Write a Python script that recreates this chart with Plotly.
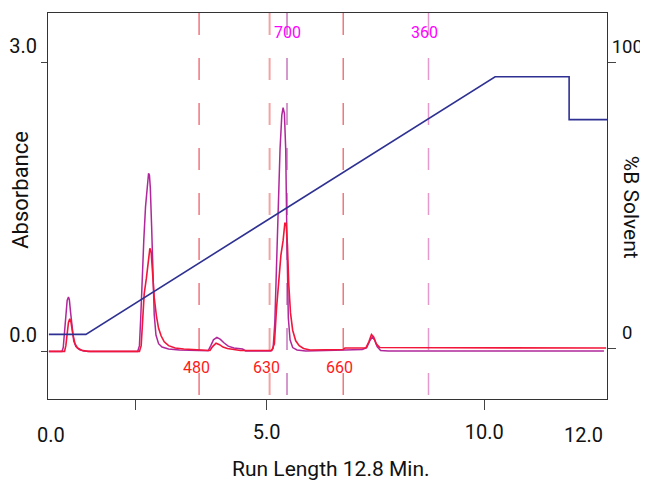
import plotly.graph_objects as go

# ---------------- data ----------------
# 700 nm trace (purple)
purple_time = [0.00, 0.30, 0.33, 0.36, 0.39, 0.42, 0.45, 0.47, 0.50, 0.53, 0.57, 0.62, 0.70, 0.80, 0.95,
               2.04, 2.08, 2.11, 2.14, 2.18, 2.22, 2.26, 2.29, 2.31, 2.33, 2.36, 2.39, 2.42, 2.46, 2.52,
               2.60, 2.75, 3.00, 3.40, 3.66, 3.72, 3.78, 3.86, 3.94, 4.02, 4.12, 4.25, 4.45, 4.52,
               5.10, 5.15, 5.19, 5.23, 5.27, 5.31, 5.35, 5.38, 5.41, 5.44, 5.47, 5.50, 5.54, 5.60,
               5.70, 5.90, 6.80, 7.20, 7.30, 7.37, 7.43, 7.48, 7.54, 7.62, 7.80, 12.75]
purple_abs = [0.000, 0.000, 0.040, 0.220, 0.420, 0.530, 0.565, 0.540, 0.400, 0.240, 0.110, 0.050, 0.020, 0.005, 0.000,
              0.000, 0.060, 0.350, 0.750, 1.150, 1.500, 1.760, 1.850, 1.830, 1.700, 1.300, 0.750, 0.380, 0.170, 0.080,
              0.045, 0.025, 0.015, 0.008, 0.008, 0.060, 0.120, 0.145, 0.125, 0.090, 0.055, 0.035, 0.025, 0.005,
              0.005, 0.030, 0.300, 0.900, 1.550, 2.100, 2.450, 2.530, 2.470, 2.100, 1.100, 0.350, 0.120, 0.040,
              0.015, 0.005, 0.015, 0.020, 0.040, 0.110, 0.150, 0.120, 0.050, 0.010, 0.005, 0.005]

# 480 nm trace (red)
red_time = [0.00, 0.36, 0.39, 0.42, 0.45, 0.48, 0.51, 0.55, 0.60, 0.66, 0.75, 0.90,
            2.08, 2.12, 2.15, 2.19, 2.24, 2.28, 2.32, 2.35, 2.38, 2.42, 2.47, 2.52, 2.58, 2.65,
            2.75, 2.90, 3.10, 3.40, 3.60, 3.70, 3.76, 3.84, 3.92, 4.00, 4.10, 4.25, 4.40,
            5.12, 5.18, 5.23, 5.28, 5.33, 5.38, 5.42, 5.45, 5.48, 5.51, 5.55, 5.60, 5.67, 5.75,
            5.85, 6.00, 6.76, 6.80, 7.28, 7.35, 7.41, 7.46, 7.52, 7.60, 12.80]
red_abs = [0.000, 0.000, 0.060, 0.180, 0.300, 0.340, 0.300, 0.180, 0.080, 0.035, 0.012, 0.000,
           0.000, 0.060, 0.350, 0.600, 0.760, 0.950, 1.070, 1.030, 0.850, 0.560, 0.370, 0.240, 0.160, 0.100,
           0.060, 0.035, 0.025, 0.020, 0.010, 0.010, 0.050, 0.085, 0.070, 0.045, 0.030, 0.020, 0.010,
           0.010, 0.080, 0.450, 0.780, 1.000, 1.150, 1.330, 1.330, 1.100, 0.700, 0.400, 0.220, 0.110, 0.060,
           0.030, 0.015, 0.020, 0.035, 0.035, 0.100, 0.175, 0.150, 0.080, 0.040, 0.035]

# gradient (%B solvent)
gradient_time = [0.0, 0.85, 10.25, 11.95, 11.95, 12.83]
gradient_pctB = [5, 5, 95, 95, 80, 80]

# wavelength markers
marker_labels = ["480", "630", "700", "660", "360"]
marker_times = [3.45, 5.07, 5.47, 6.76, 8.72]

# tick labels
x_tick_vals = [2, 5, 10]
x_tick_text = ["", "5.0", "10.0"]
x_extra_vals = [0.04, 12.27]
x_extra_text = ["0.0", "12.0"]
abs_tick_vals = [0, 3]
abs_tick_text = ["0.0", "3.0"]
pct_tick_vals = [0, 100]
pct_tick_text = ["\u20070", "100"]

# ---------------- styles ----------------
FONT = "Roboto, DejaVu Sans Condensed, sans-serif"
PURPLE = "#b0279b"
RED = "#f2163a"
BLUE = "#2e3192"
marker_line_colors = ["#e8323c", "#f4a3a3", "#a8329b", "#e8323c", "#e59acb"]
marker_text_colors = ["#ff1a1a", "#ff1a1a", "#ff00ff", "#ff1a1a", "#ff00ff"]
marker_text_top = [False, False, True, False, True]
marker_text_shift = [-3, -3, 0, -4, -4]
marker_line_widths = [1, 2, 1, 1, 1.5]

fig = go.Figure()
fig.add_trace(go.Scatter(x=purple_time, y=purple_abs, mode="lines",
                         line=dict(color=PURPLE, width=1.5), showlegend=False))
fig.add_trace(go.Scatter(x=red_time, y=red_abs, mode="lines",
                         line=dict(color=RED, width=1.6), showlegend=False))
fig.add_trace(go.Scatter(x=gradient_time, y=gradient_pctB, mode="lines", yaxis="y2",
                         line=dict(color=BLUE, width=1.6), showlegend=False))

for lab, t, lc, tc, top, sh, lw in zip(marker_labels, marker_times, marker_line_colors,
                                       marker_text_colors, marker_text_top, marker_text_shift,
                                       marker_line_widths):
    fig.add_shape(type="line", xref="x", yref="paper", x0=t, x1=t, y0=1, y1=0,
                  line=dict(color=lc, width=lw, dash="22px,23px"), layer="below")
    fig.add_annotation(x=t, xref="x", yref="paper", y=(0.9505 if top else 0.0808),
                       xanchor="center", yanchor="middle",
                       text=lab, showarrow=False, xshift=sh,
                       font=dict(family=FONT, size=16, color=tc))

for v, txt in zip(x_extra_vals, x_extra_text):
    fig.add_annotation(x=v, xref="x", yref="paper", y=0, yshift=-36,
                       xanchor="center", yanchor="middle",
                       text=txt, showarrow=False, font=dict(family=FONT, size=20, color="#111"))

fig.add_annotation(x=0.506, xref="paper", y=0, yref="paper", yshift=-70,
                   xanchor="center", yanchor="middle",
                   text="Run Length 12.8 Min.", showarrow=False,
                   font=dict(family=FONT, size=21, color="#111"))
fig.add_annotation(x=0, xref="paper", xshift=-27, y=0.542, yref="paper", textangle=-90,
                   xanchor="center", yanchor="middle",
                   text="Absorbance", showarrow=False,
                   font=dict(family=FONT, size=22, color="#111"))
fig.add_annotation(x=1, xref="paper", xshift=24, y=0.498, yref="paper", textangle=90,
                   xanchor="center", yanchor="middle",
                   text="%B Solvent", showarrow=False,
                   font=dict(family=FONT, size=21, color="#111"))

# the page adds an 8px body margin, so the figure is drawn 8px smaller
fig.update_layout(
    width=640, height=472,
    margin=dict(l=40, r=41, t=5, b=81),
    paper_bgcolor="white", plot_bgcolor="white",
    font=dict(family=FONT, size=20, color="#111"),
    xaxis=dict(range=[-0.02, 12.82], tickvals=x_tick_vals, ticktext=x_tick_text,
               ticks="outside", ticklen=10, tickcolor="#444", tickwidth=1,
               showgrid=False, zeroline=False, showline=True, linecolor="#333", linewidth=1,
               mirror=True, automargin=False, ticklabelstandoff=5, tickfont=dict(size=20)),
    yaxis=dict(range=[-0.494, 3.513], tickvals=abs_tick_vals, ticktext=abs_tick_text,
               ticks="outside", ticklen=6, tickcolor="#444", tickwidth=1,
               showgrid=False, zeroline=False, showline=True, linecolor="#333", linewidth=1,
               mirror=True, automargin=False, ticklabelshift=-16, tickfont=dict(size=20)),
    yaxis2=dict(range=[-17.57, 117.25], tickvals=pct_tick_vals, ticktext=pct_tick_text,
                overlaying="y", side="right",
                ticks="outside", ticklen=8, tickcolor="#444", tickwidth=1,
                showgrid=False, zeroline=False, showline=False, automargin=False,
                ticklabelshift=-16, ticklabelstandoff=-8, tickfont=dict(size=18.5)),
)

fig.write_html("out.html")
